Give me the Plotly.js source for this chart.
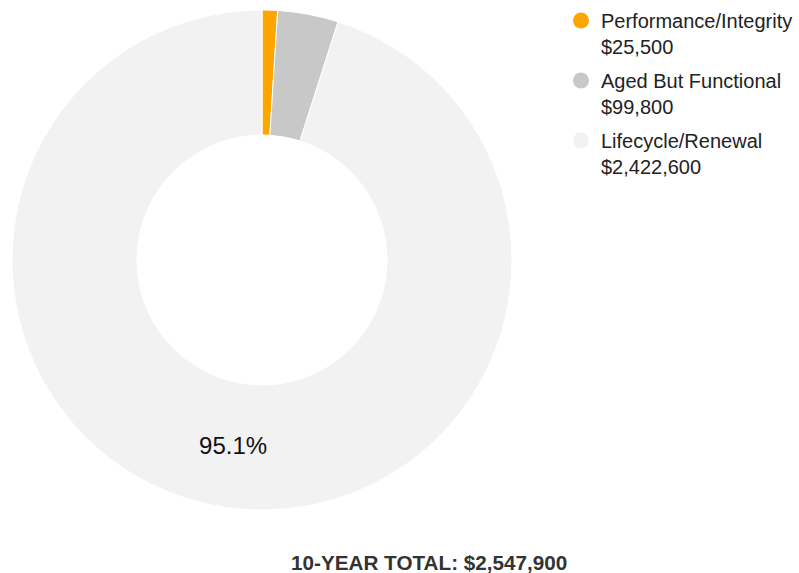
<!DOCTYPE html>
<html>
<head>
<meta charset="utf-8">
<script src="https://cdn.plot.ly/plotly-3.0.1.min.js"></script>
<style>html,body{margin:0;padding:0;background:#fff;}#chart{width:799px;height:573px;}</style>
</head>
<body>
<div id="chart"></div>
<script>
var categories = ["Performance/Integrity", "Aged But Functional", "Lifecycle/Renewal"];
var values = [25500, 99800, 2422600];
var valueLabels = ["$25,500", "$99,800", "$2,422,600"];
var colors = ["#FFA500", "#C8C8C8", "#F2F2F2"];
var totalLabel = "10-YEAR TOTAL: $2,547,900";

var L = 12, R = 12, T = 10, B = 63;
var W = 799 - L - R;
var H = 573 - T - B;
var D = 500;

var pie = {
  type: "pie",
  labels: categories,
  values: values,
  hole: 0.5,
  sort: false,
  direction: "clockwise",
  rotation: 0,
  marker: {colors: colors, line: {color: "#ffffff", width: 1}},
  texttemplate: ["", "", "%{percent:.1%}"],
  textposition: "inside",
  insidetextfont: {color: "#111111", size: 24, family: "Liberation Sans, Arial, sans-serif"},
  insidetextorientation: "horizontal",
  hoverinfo: "label+value+percent",
  showlegend: false,
  domain: {x: [0, D / W], y: [0, 1]}
};

var legendTraces = categories.map(function (c, i) {
  return {
    type: "scatter",
    mode: "markers",
    x: [null], y: [null],
    name: c + "<br>" + valueLabels[i],
    legendgroup: "g" + i,
    marker: {color: colors[i], size: 20, symbol: "circle"},
    showlegend: true,
    hoverinfo: "skip"
  };
});

var layout = {
  width: 799,
  height: 573,
  margin: {l: L, r: R, t: T, b: B, autoexpand: false},
  paper_bgcolor: "#ffffff",
  plot_bgcolor: "#ffffff",
  font: {family: "Liberation Sans, Arial, sans-serif", color: "#222222"},
  xaxis: {visible: false},
  yaxis: {visible: false},
  showlegend: true,
  legend: {
    x: (561 - L) / W, xanchor: "left",
    y: 1 + 9 / H, yanchor: "top",
    font: {size: 20, color: "#222222"},
    traceorder: "grouped",
    tracegroupgap: 5,
    valign: "top",
    bgcolor: "rgba(0,0,0,0)"
  },
  annotations: [{
    text: "<b>" + totalLabel + "</b>",
    xref: "paper", yref: "paper",
    x: (429 - L) / W, y: -(562 - T - H) / H,
    xanchor: "center", yanchor: "middle",
    showarrow: false,
    font: {size: 20.7, color: "#333333"}
  }]
};

Plotly.newPlot("chart", [pie].concat(legendTraces), layout, {displayModeBar: false, staticPlot: true});
</script>
</body>
</html>
